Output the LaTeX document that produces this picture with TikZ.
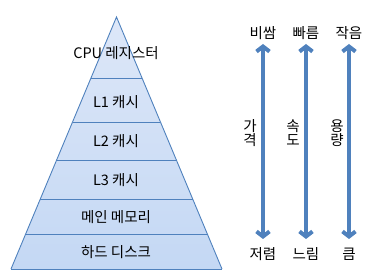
\documentclass[tikz,border=0pt]{standalone}
\usepackage{fontspec}
\setmainfont{Noto Sans CJK KR}
\usepackage{tikz}
\usetikzlibrary{positioning, arrows.meta, calc}

\definecolor{edgeblue}{RGB}{79,129,189}
\definecolor{filltop}{RGB}{221,231,248}
\definecolor{fillbot}{RGB}{196,216,244}

\begin{document}
\begin{tikzpicture}[
        x=1pt, y=-1pt,
        level/.style={
          inner sep=0pt,
          font=\fontsize{14.5}{16}\selectfont
        },
        tag/.style={
          inner sep=0pt,
          font=\fontsize{14.5}{16}\selectfont
        },
        bigarrow/.style={
          draw=edgeblue,
          line width=4pt,
          {Straight Barb[length=5pt, width=13pt, line width=4pt]}-{Straight Barb[length=5pt, width=13pt, line width=4pt]}
        },
        layer/.style={draw=edgeblue, line width=0.9pt}
      ]
        \useasboundingbox (0,0) rectangle (384,270);

        % pyramid
        \coordinate (apex) at (116.5,17);
        \coordinate (baseL) at (11,269);
        \coordinate (baseR) at (222,269);
        \shade[top color=filltop, bottom color=fillbot] (apex) -- (baseR) -- (baseL) -- cycle;
        \foreach \yy in {78,122,160,199,234,269} {
          \draw[layer] ($(apex)!{(\yy-17)/252}!(baseL)$) -- ($(apex)!{(\yy-17)/252}!(baseR)$);
        }
        \draw[layer] (baseL) -- (apex) -- (baseR);

        \node[level] (cpu) at (116,53) {CPU 레지스터};
        \node[level] (lone) at (116,102) {L1 캐시};
        \node[level] (ltwo) at (116,141) {L2 캐시};
        \node[level] (lthree) at (116,180) {L3 캐시};
        \node[level] (mainmem) at (116,217) {메인 메모리};
        \node[level] (disk) at (116,252) {하드 디스크};

        % arrows
        \node[tag] (costhi) at (263,33) {비쌈};
        \node[tag] (costlo) at (263,254) {저렴};
        \node[tag] (speedhi) at (306,33) {빠름};
        \node[tag] (speedlo) at (306,254) {느림};
        \node[tag] (sizehi) at (349,33) {작음};
        \node[tag] (sizelo) at (349,254) {큼};

        \draw[bigarrow] ([yshift=-11pt]costhi.center) -- ([yshift=15pt]costlo.center);
        \draw[bigarrow] ([yshift=-11pt]speedhi.center) -- ([yshift=15pt]speedlo.center);
        \draw[bigarrow] ([yshift=-11pt]sizehi.center) -- ([yshift=15pt]sizelo.center);

        \node[tag, align=center] (cost) at (250,133) {가\\[-2pt]격};
        \node[tag, align=center] (speed) at (293,133) {속\\[-2pt]도};
        \node[tag, align=center] (size) at (337,133) {용\\[-2pt]량};
      \end{tikzpicture}
\end{document}
